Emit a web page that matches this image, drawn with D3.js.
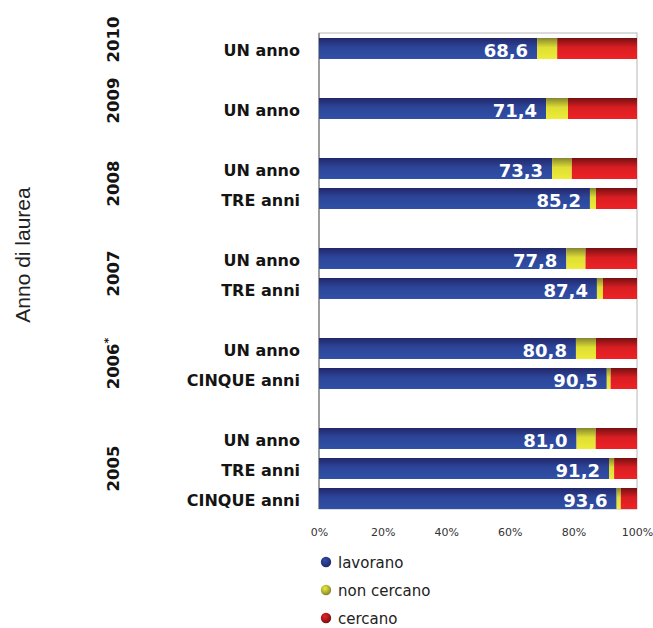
<!DOCTYPE html>
<html>
<head>
<meta charset="utf-8">
<script src="https://cdn.jsdelivr.net/npm/d3@7"></script>
<style>
  html, body { margin: 0; padding: 0; background: #fff; }
  svg { display: block; }
</style>
</head>
<body>
<svg id="chart" width="653" height="628"></svg>
<script>
// ---------- DATA ----------
const rowLabels = ["UN anno", "UN anno", "UN anno", "TRE anni", "UN anno", "TRE anni",
                   "UN anno", "CINQUE anni", "UN anno", "TRE anni", "CINQUE anni"];
const rowYears  = ["2010", "2009", "2008", "2008", "2007", "2007",
                   "2006*", "2006*", "2005", "2005", "2005"];
const years = ["2010", "2009", "2008", "2007", "2006*", "2005"];
const lavorano    = [68.6, 71.4, 73.3, 85.2, 77.8, 87.4, 80.8, 90.5, 81.0, 91.2, 93.6];
const nonCercano  = [6.3, 6.9, 6.2, 1.9, 6.0, 1.9, 6.3, 1.2, 6.0, 1.6, 1.3];
const cercano     = [25.1, 21.7, 20.5, 12.9, 16.2, 10.7, 12.9, 8.3, 13.0, 7.2, 5.1];
const seriesNames = ["lavorano", "non cercano", "cercano"];
const xTicks = [0, 20, 40, 60, 80, 100];
const axisTitle = "Anno di laurea";

// ---------- LAYOUT ----------
const svg = d3.select("#chart");
const plot = { left: 319, right: 637, top: 33.5, bottom: 513.5 };

// build slot list: bars plus an empty spacer between year groups
const slots = [];
rowLabels.forEach((lab, i) => {
  if (i > 0 && rowYears[i] !== rowYears[i - 1]) slots.push("gap" + i);
  slots.push("row" + i);
});

const x = d3.scaleLinear().domain([0, 100]).range([plot.left, plot.right]);
const y = d3.scaleBand().domain(slots).range([plot.top, plot.bottom])
  .paddingInner(0.3).paddingOuter(0.15);

// ---------- GRADIENTS ----------
const defs = svg.append("defs");
const palettes = [
  ["#23276a", "#2c4599", "#3050a6"],   // lavorano
  ["#85852e", "#dede34", "#eeec38"],   // non cercano
  ["#761011", "#d81e22", "#ee2226"]    // cercano
];
palettes.forEach((p, k) => {
  const g = defs.append("linearGradient").attr("id", "grad" + k)
    .attr("x1", 0).attr("y1", 0).attr("x2", 0).attr("y2", 1);
  g.append("stop").attr("offset", "0%").attr("stop-color", p[0]);
  g.append("stop").attr("offset", "45%").attr("stop-color", p[1]);
  g.append("stop").attr("offset", "100%").attr("stop-color", p[2]);
  const r = defs.append("radialGradient").attr("id", "rgrad" + k)
    .attr("cx", "40%").attr("cy", "35%").attr("r", "65%");
  r.append("stop").attr("offset", "0%").attr("stop-color", p[2]);
  r.append("stop").attr("offset", "100%").attr("stop-color", p[0]);
});

// ---------- FRAME ----------
const lastBand = y("row" + (rowLabels.length - 1));
const frameTop = 33, frameBottom = lastBand + y.bandwidth();
svg.append("rect")
  .attr("x", plot.left).attr("y", frameTop)
  .attr("width", plot.right - plot.left).attr("height", frameBottom - frameTop)
  .attr("fill", "none").attr("stroke", "#c4c4c4").attr("stroke-width", 1.2);
svg.append("line")
  .attr("x1", plot.left).attr("x2", plot.left)
  .attr("y1", frameTop).attr("y2", frameBottom)
  .attr("stroke", "#8a8a8a").attr("stroke-width", 1.5);

// ---------- BARS ----------
const stackData = rowLabels.map((lab, i) => ({
  key: "row" + i, lavorano: lavorano[i], non: nonCercano[i], cercano: cercano[i]
}));
const stacked = d3.stack().keys(["lavorano", "non", "cercano"])(stackData);

stacked.forEach((layer, k) => {
  svg.append("g").selectAll("rect").data(layer).join("rect")
    .attr("x", d => x(d[0]))
    .attr("width", d => x(d[1]) - x(d[0]))
    .attr("y", d => y(d.data.key))
    .attr("height", y.bandwidth())
    .attr("fill", `url(#grad${k})`);
});

// value labels (lavorano)
svg.append("g").selectAll("text").data(stackData).join("text")
  .attr("x", d => x(d.lavorano) - 9)
  .attr("y", d => y(d.key) + y.bandwidth() / 2 + 8)
  .attr("text-anchor", "end")
  .attr("font-family", "DejaVu Sans, sans-serif")
  .attr("font-weight", "bold")
  .attr("font-size", 18)
  .attr("fill", "#ffffff")
  .text(d => d3.format(".1f")(d.lavorano).replace(".", ","));

// category labels
svg.append("g").selectAll("text").data(rowLabels).join("text")
  .attr("x", 300)
  .attr("y", (d, i) => y("row" + i) + y.bandwidth() / 2 + 7)
  .attr("text-anchor", "end")
  .attr("font-family", "DejaVu Sans, sans-serif")
  .attr("font-weight", "bold")
  .attr("font-size", 16)
  .attr("fill", "#141414")
  .text(d => d);

// year labels (rotated)
const yearNudge = { "2010": -9, "2009": -8 };
years.forEach(yr => {
  const idx = rowYears.map((v, i) => v === yr ? i : -1).filter(i => i >= 0);
  const centers = idx.map(i => y("row" + i) + y.bandwidth() / 2);
  const cy = d3.mean(centers) + (yearNudge[yr] || 0);
  const t = svg.append("text")
    .attr("transform", `translate(119,${cy}) rotate(-90)`)
    .attr("text-anchor", "middle")
    .attr("font-family", "DejaVu Sans, sans-serif")
    .attr("font-weight", "bold")
    .attr("font-size", 16.5)
    .attr("fill", "#141414");
  const base = yr.replace("*", "");
  t.append("tspan").text(base);
  if (yr.includes("*")) {
    t.append("tspan").attr("font-size", 11).attr("dy", -7).text("*");
  }
});

// axis title
svg.append("text")
  .attr("transform", `translate(30,255) rotate(-90)`)
  .attr("text-anchor", "middle")
  .attr("font-family", "Liberation Sans, Arial, sans-serif")
  .attr("font-size", 21)
  .attr("fill", "#222")
  .text(axisTitle);

// x axis tick labels
const xAxis = d3.axisBottom(x).tickValues(xTicks).tickSize(0).tickPadding(0)
  .tickFormat(d => d + "%");
const ax = svg.append("g").attr("transform", `translate(0,${frameBottom + 27})`).call(xAxis);
ax.select(".domain").remove();
ax.selectAll("text")
  .attr("font-family", "DejaVu Sans, sans-serif")
  .attr("font-size", 11)
  .attr("fill", "#333")
  .attr("dy", "0");

// legend
const legend = svg.append("g");
seriesNames.forEach((name, k) => {
  const ly = 562 + k * 28;
  legend.append("circle").attr("cx", 326).attr("cy", ly).attr("r", 5.2)
    .attr("fill", `url(#rgrad${k})`);
  legend.append("text").attr("x", 338).attr("y", ly + 5.5)
    .attr("font-family", "DejaVu Sans, sans-serif")
    .attr("font-size", 15)
    .attr("fill", "#222")
    .text(name);
});
</script>
</body>
</html>
